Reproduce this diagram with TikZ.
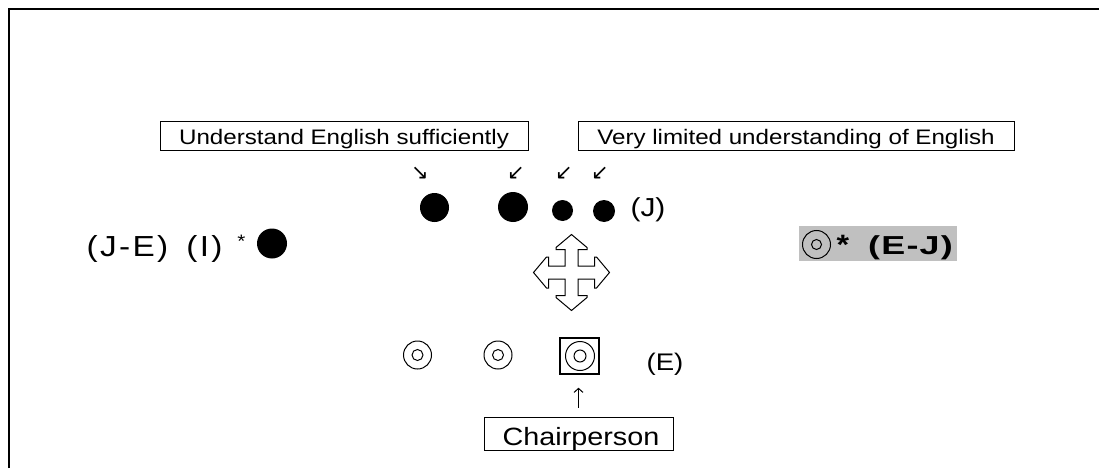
\documentclass[tikz,border=0pt]{standalone}
\usepackage{fontspec}
\setmainfont{Liberation Sans}[FakeStretch=1.15]
\newfontfamily\arrfont{DejaVu Sans}
\usetikzlibrary{arrows.meta}
\definecolor{graybg}{RGB}{192,192,192}
\begin{document}
\begin{tikzpicture}[x=1pt,y=-1pt,
  lbl/.style={draw,line width=1pt,inner sep=0pt,text depth=0pt},
  dot/.style={circle,fill=black,inner sep=0pt},
  ring/.style={circle,draw,line width=1pt,inner sep=0pt,minimum size=28pt},
  innring/.style={circle,draw,line width=1pt,inner sep=0pt,minimum size=11pt},
  glyph/.style={inner sep=0pt,font=\arrfont\fontsize{21}{21}\selectfont},
  txt/.style={inner sep=0pt,anchor=base}
]
\fill[white] (0,0) rectangle (1099,468);
\useasboundingbox (0,0) rectangle (1099,468);
% frame
\draw[line width=2pt] (8.5,468) -- (8.5,9) -- (1099,9);

% label boxes
\node[lbl,minimum width=368pt,minimum height=29pt,text height=17pt,
      font=\fontsize{21}{24}\selectfont] (b1) at (344,135.5) {Understand English sufficiently};
\node[lbl,minimum width=436pt,minimum height=29pt,text height=17pt,
      font=\fontsize{21}{24}\selectfont] (b2) at (796,135.5) {Very limited understanding of English};

% small arrows
\node[glyph] (a1) at (420,173) {↘};
\node[glyph] (a2) at (516,173) {↙};
\node[glyph] (a3) at (564,173) {↙};
\node[glyph] (a4) at (600,173) {↙};

% Japanese side dots
\node[dot,minimum size=29pt] (d1) at (434.5,207.5) {};
\node[dot,minimum size=30pt] (d2) at (513,207) {};
\node[dot,minimum size=21pt] (d3) at (562.5,210.5) {};
\node[dot,minimum size=22pt] (d4) at (604,211) {};
\node[txt,font=\fontsize{26}{28}\selectfont] (jlab) at (648,216.5) {(J)};

% cross arrow
\coordinate (cx) at (571.5,272.5);
\draw[line width=1pt,fill=white,shift={(cx)}]
  (0,-38) -- (15.5,-25) -- (15.5,-23) -- (6.5,-23) -- (6.5,-6.5) -- (23,-6.5) -- (23,-15.5) -- (25,-15.5)
  -- (38,0) -- (25,15.5) -- (23,15.5) -- (23,6.5) -- (6.5,6.5) -- (6.5,23) -- (15.5,23) -- (15.5,25)
  -- (0,38) -- (-15.5,25) -- (-15.5,23) -- (-6.5,23) -- (-6.5,6.5) -- (-23,6.5) -- (-23,15.5) -- (-25,15.5)
  -- (-38,0) -- (-25,-15.5) -- (-23,-15.5) -- (-23,-6.5) -- (-6.5,-6.5) -- (-6.5,-23) -- (-15.5,-23) -- (-15.5,-25)
  -- cycle;

% English side
\node[ring] (e1) at (417.5,355) {};
\node[innring] (e1i) at (417.5,355) {};
\node[ring] (e2) at (498,355) {};
\node[innring] (e2i) at (498,355) {};
\node[draw,line width=1.5pt,minimum width=39pt,minimum height=36pt,inner sep=0pt] (sq) at (579.5,356) {};
\node[ring,minimum size=29pt] (e3) at (580,356) {};
\node[innring,minimum size=12pt] (e3i) at (580,356) {};
\node[txt,font=\fontsize{24}{26}\selectfont] (elab) at (665,370) {(E)};

% chairperson
\node[lbl,minimum width=189pt,minimum height=33pt,text height=23pt,
      font=\fontsize{25}{27}\selectfont] (chair) at (578.5,433.5) {\hspace*{5pt}Chairperson};
\draw[line width=1pt,-{Straight Barb[length=4pt,width=9pt]},shorten <=9pt,shorten >=13pt]
  (chair.north) -- (chair.north |- sq.south);

% left legend
\node[txt,font=\fontsize{29}{30}\selectfont\addfontfeatures{LetterSpace=8}] (je) at (127.5,256.5) {(J-E)};
\node[txt,font=\fontsize{29}{30}\selectfont\addfontfeatures{LetterSpace=8}] (il) at (204.5,256.5) {(I)};
\node[txt,font=\fontsize{18}{18}\selectfont] (ast1) at (241.5,247) {*};
\node[dot,minimum size=30pt] (dl) at (272,243.5) {};

% right legend
\node[fill=graybg,minimum width=158pt,minimum height=35pt,inner sep=0pt] (gb) at (878,243.5) {};
\node[ring] (er) at (816.5,244.5) {};
\node[innring,minimum size=10pt] (eri) at (816.5,244.5) {};
\node[txt,font=\bfseries\fontsize{28}{28}\selectfont] (ast2) at (843,254) {*};
\node[txt,font=\bfseries\fontsize{26}{26}\selectfont\addfontfeatures{LetterSpace=4}] (ej) at (910.5,254) {\scalebox{1.2}[1]{(E-J)}};
\end{tikzpicture}
\end{document}
